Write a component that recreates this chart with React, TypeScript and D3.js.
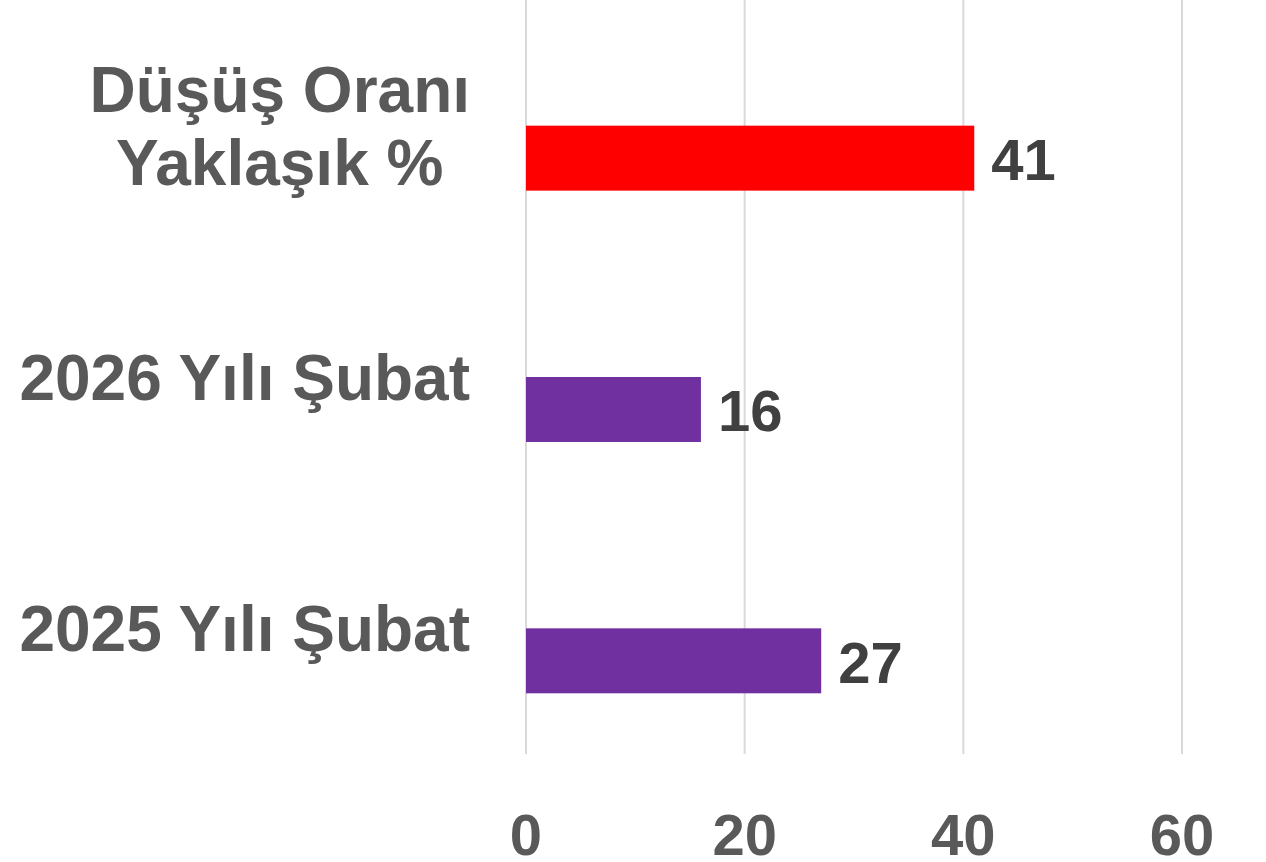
import React, { useEffect, useRef } from 'react';
import * as d3 from 'd3';

// categories top to bottom
const categories = ['Düşüş Oranı\nYaklaşık %', '2026 Yılı Şubat', '2025 Yılı Şubat'];
const values = [41, 16, 27];
const barColors = ['#FF0000', '#7030A0', '#7030A0'];
// Excel clusters two series per category; the first is empty
const seriesSlots = ['empty', 'value'];
const xTicks = [0, 20, 40, 60];

const W = 1266;
const H = 862;

const App: React.FC = () => {
	const svgRef = useRef<SVGSVGElement>(null);

	useEffect(() => {
		const root = d3.select(svgRef.current);
		root.selectAll('*').remove();

		const margin = { top: 0, right: 84, bottom: 108, left: 526 };
		const font = '"Liberation Sans", Arial, sans-serif';

		const x = d3.scaleLinear().domain([0, 60]).range([margin.left, W - margin.right]);
		const y = d3
			.scaleBand<string>()
			.domain(categories)
			.range([margin.top, H - margin.bottom])
			.paddingInner(0.483)
			.paddingOuter(0.2415);
		const step = y.step();
		const bandTop = (c: string) => (y(c) as number) - (step - y.bandwidth()) / 2;
		const sub = d3.scaleBand<string>().domain(seriesSlots).range([0, y.bandwidth()]);

		// gridlines
		root
			.append('g')
			.selectAll('line')
			.data(xTicks)
			.enter()
			.append('line')
			.attr('x1', (d) => x(d))
			.attr('x2', (d) => x(d))
			.attr('y1', margin.top)
			.attr('y2', H - margin.bottom)
			.attr('stroke', '#d9d9d9')
			.attr('stroke-width', 2);

		// bars
		root
			.append('g')
			.selectAll('rect')
			.data(values)
			.enter()
			.append('rect')
			.attr('x', x(0))
			.attr('y', (d, i) => (y(categories[i]) as number) + (sub('value') as number))
			.attr('width', (d) => x(d) - x(0))
			.attr('height', sub.bandwidth())
			.attr('fill', (d, i) => barColors[i]);

		// data labels
		root
			.append('g')
			.selectAll('text')
			.data(values)
			.enter()
			.append('text')
			.attr('x', (d) => x(d) + 17)
			.attr('y', (d, i) => (y(categories[i]) as number) + (sub('value') as number) + sub.bandwidth() / 2 + 22)
			.style('font-family', font)
			.style('font-weight', 'bold')
			.style('font-size', '58px')
			.style('fill', '#404040')
			.text((d) => d);

		// category labels (multi-line labels centred on their widest line, right aligned as a block)
		const lineH = 73;
		const labelRight = x(0) - 56;
		categories.forEach((c) => {
			const lines = c.split('\n');
			const cy = bandTop(c) + step / 2;
			const t = root
				.append('text')
				.style('font-family', font)
				.style('font-weight', 'bold')
				.style('font-size', '64px')
				.style('fill', '#595959')
				.attr('text-anchor', 'middle');
			const spans = lines.map((l, i) =>
				t
					.append('tspan')
					.attr('y', cy + 23 + (i - (lines.length - 1) / 2) * lineH)
					.text(l)
			);
			const maxW = d3.max(spans, (s) => (s.node() as SVGTSpanElement).getComputedTextLength()) || 0;
			spans.forEach((s) => s.attr('x', labelRight - maxW / 2));
		});

		// x tick labels
		root
			.append('g')
			.selectAll('text')
			.data(xTicks)
			.enter()
			.append('text')
			.attr('x', (d) => x(d))
			.attr('y', 855)
			.attr('text-anchor', 'middle')
			.style('font-family', font)
			.style('font-weight', 'bold')
			.style('font-size', '58px')
			.style('fill', '#595959')
			.text((d) => d);
	}, []);

	return (
		<svg
			ref={svgRef}
			width={W}
			height={H}
			style={{ position: 'absolute', left: 0, top: 0, background: '#fff' }}
		/>
	);
};

export default App;
